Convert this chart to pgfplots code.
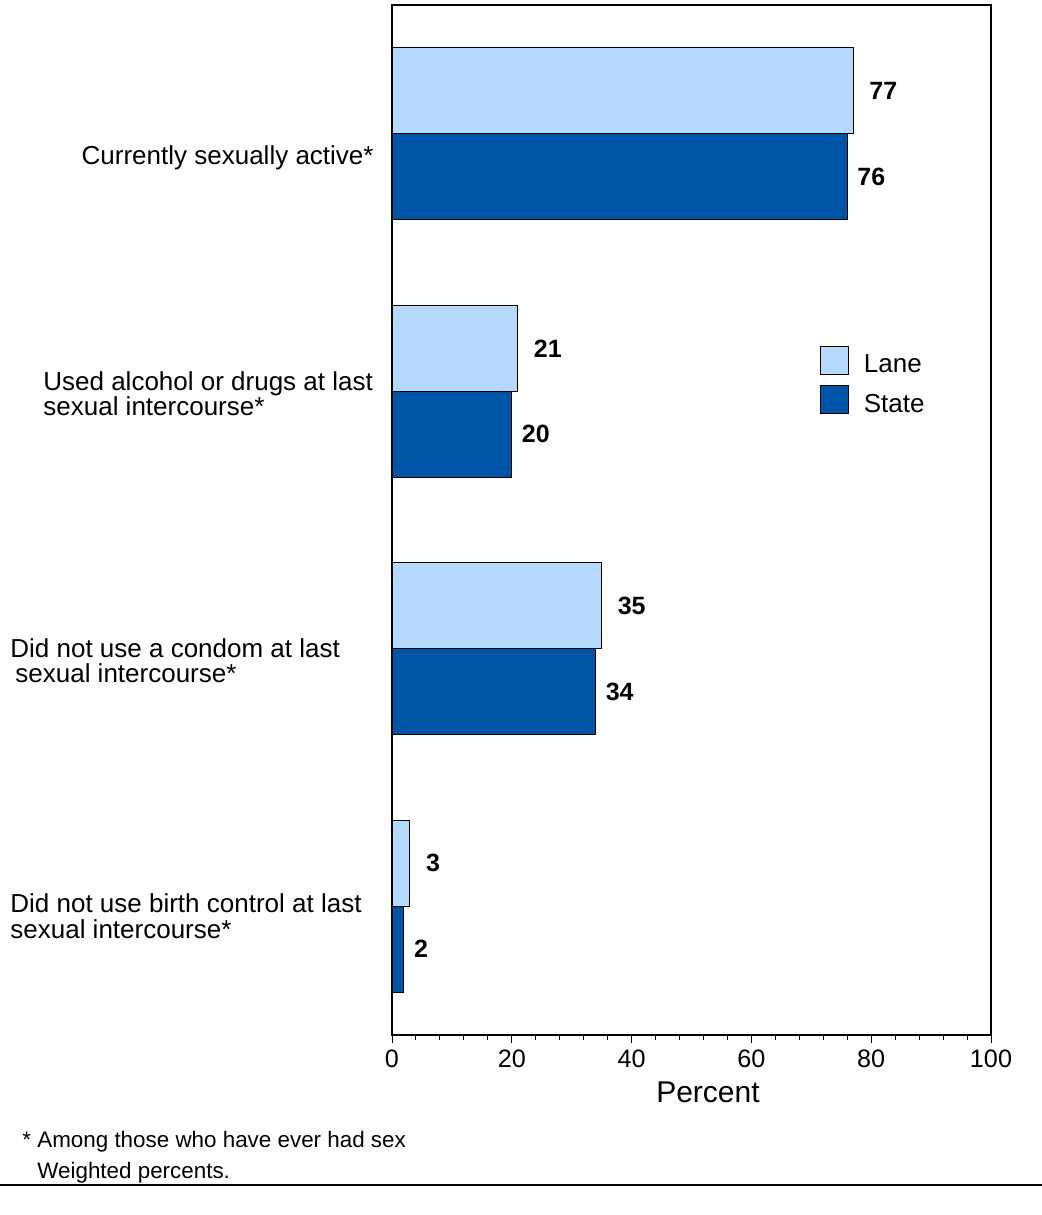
\documentclass[border=0pt]{standalone}
\usepackage{pgfplots}
\pgfplotsset{compat=1.18}
\usepackage{fontspec}
\setmainfont{Liberation Sans}
\definecolor{lanec}{RGB}{181,217,253}
\definecolor{statec}{RGB}{0,84,166}
\begin{document}
\begin{tikzpicture}
\path[use as bounding box] (-196pt,-90pt) rectangle (325pt,517.5pt);
\begin{axis}[
  at={(0,0)}, anchor=south west,
  scale only axis, width=299.5pt, height=515pt,
  xmin=0, xmax=100, ymin=-0.5, ymax=3.5,
  xbar, bar width=0.3333,
  xtick={0,20,...,100}, minor x tick num=4, xtick pos=bottom, tick align=outside,
  major tick length=4pt, minor tick length=2.5pt,
  ytick=\empty,
  axis line style={line width=0.6pt},
  every tick/.style={black, line width=0.5pt},
  ticklabel style={font=\fontsize{12.6}{14}\selectfont},
  /pgf/number format/assume math mode=true,
  xlabel={Percent},
  xlabel style={font=\fontsize{15}{18}\selectfont, at={(axis description cs:0.5275,-0.066)}, anchor=base, inner sep=0pt},
  clip=false,
  legend style={at={(axis cs:71.45,2.177)}, anchor=north west, draw=none, fill=none,
    inner sep=0pt, font=\fontsize{13}{15}\selectfont, nodes={inner sep=0pt}, row sep=5pt},
  legend cell align=left,
  legend image code/.code={\draw[#1,draw=black,line width=0.5pt] (0pt,-4.77pt) rectangle (14pt,9.23pt); \path[draw=none,fill=none] (0pt,0pt) -- (21.5pt,0pt);},
]
\addplot[fill=lanec, draw=black, line width=0.5pt, bar shift=0.16667,
  nodes near coords, nodes near coords style={anchor=west, xshift=4.5pt, font=\bfseries\fontsize{12.5}{14}\selectfont, text=black}]
  coordinates {(77,3) (21,2) (35,1) (3,0)};
\addlegendentry{Lane}
\addplot[fill=statec, draw=black, line width=0.5pt, bar shift=-0.16667,
  nodes near coords, nodes near coords style={anchor=west, xshift=1.5pt, font=\bfseries\fontsize{12.5}{14}\selectfont, text=black}]
  coordinates {(76,3) (20,2) (34,1) (2,0)};
\addlegendentry{State}
\end{axis}
\begin{scope}[x=0.5pt,y=-0.5pt,shift={(-196pt,517.5pt)}]
\begin{scope}[every node/.style={inner sep=0pt,font=\fontsize{13}{15}\selectfont}]
\node[anchor=base east] at (374,165) {Currently sexually active*};
\node[anchor=base west, text depth=0pt] at (43,391) {Used alcohol or drugs at last};
\node[anchor=base west, text height=6.5pt] at (43,416) {sexual intercourse*};
\node[anchor=base west, text depth=0pt] at (10,658) {Did not use a condom at last};
\node[anchor=base west, text height=6.5pt] at (15,683) {sexual intercourse*};
\node[anchor=base west, text depth=0pt] at (10,913) {Did not use birth control at last};
\node[anchor=base west, text height=6.5pt] at (10,938) {sexual intercourse*};
\end{scope}
\begin{scope}[every node/.style={inner sep=0pt,font=\fontsize{11.2}{13}\selectfont}]
\node[anchor=base west] at (22,1147) {* Among those who have ever had sex};
\node[anchor=base west] at (37,1178) {Weighted percents.};
\end{scope}
\draw[line width=1pt] (0,1185) -- (1042,1185);
\end{scope}
\end{tikzpicture}
\end{document}
